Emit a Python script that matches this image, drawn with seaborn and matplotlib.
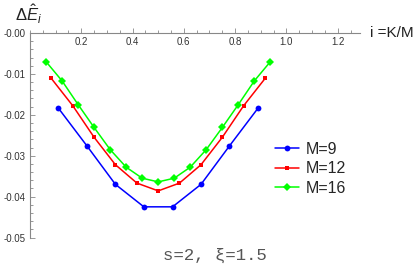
import numpy as np
import pandas as pd
import matplotlib
matplotlib.use('Agg')
import matplotlib.pyplot as plt
import seaborn as sns
from matplotlib.ticker import MultipleLocator, FormatStrFormatter

# values
x9 = [0.111, 0.222, 0.333, 0.444, 0.556, 0.667, 0.778, 0.889]
y9 = [-0.0184, -0.0276, -0.0370, -0.0425, -0.0425, -0.0370, -0.0276, -0.0184]
x12 = [0.083, 0.167, 0.25, 0.333, 0.417, 0.5, 0.583, 0.667, 0.75, 0.833, 0.917]
y12 = [-0.0111, -0.0178, -0.0255, -0.0322, -0.0367, -0.0386, -0.0367, -0.0322, -0.0255, -0.0178, -0.0111]
x16 = [0.0625, 0.125, 0.1875, 0.25, 0.3125, 0.375, 0.4375, 0.5, 0.5625, 0.625, 0.6875, 0.75, 0.8125, 0.875, 0.9375]
y16 = [-0.0070, -0.0117, -0.0175, -0.0231, -0.0285, -0.0328, -0.0355, -0.0364, -0.0355, -0.0328, -0.0285, -0.0231, -0.0175, -0.0117, -0.0070]
labels = ['M=9', 'M=12', 'M=16']
xticks = [0.2, 0.4, 0.6, 0.8, 1.0, 1.2]

df = pd.concat([
    pd.DataFrame({'i': x9, 'dE': y9, 'M': labels[0]}),
    pd.DataFrame({'i': x12, 'dE': y12, 'M': labels[1]}),
    pd.DataFrame({'i': x16, 'dE': y16, 'M': labels[2]}),
])

sns.set_style('white')
plt.rcParams['font.family'] = ['Liberation Sans', 'DejaVu Sans']
plt.rcParams['mathtext.fontset'] = 'custom'
plt.rcParams['mathtext.rm'] = 'Liberation Sans'
plt.rcParams['mathtext.it'] = 'Liberation Sans:italic'

colors = {'M=9': '#0000ff', 'M=12': '#ff0000', 'M=16': '#00ff00'}
markers = {'M=9': 'o', 'M=12': 's', 'M=16': 'D'}
msizes = {'M=9': 4.2, 'M=12': 3.0, 'M=16': 4.2}

fig = plt.figure(figsize=(4.15, 2.65), dpi=100)
ax = fig.add_axes([30/415, 1-237.5/265, 330/415, 204.5/265])

for m in labels:
    sns.lineplot(data=df[df['M'] == m], x='i', y='dE', ax=ax, color=colors[m],
                 marker=markers[m], markersize=msizes[m], markeredgecolor=colors[m],
                 markeredgewidth=0, linewidth=1.1, label=m, sort=False)

ax.set_xlabel('')
ax.set_ylabel('')

for s in ['bottom', 'right']:
    ax.spines[s].set_visible(False)
for s in ['top', 'left']:
    ax.spines[s].set_color('#888888')
    ax.spines[s].set_linewidth(0.8)

ax.set_xticks(xticks)
ax.xaxis.set_minor_locator(MultipleLocator(0.05))
ax.xaxis.set_major_formatter(FormatStrFormatter('%.1f'))
ax.yaxis.set_major_locator(MultipleLocator(0.01))
ax.yaxis.set_minor_locator(MultipleLocator(0.002))
ax.yaxis.set_major_formatter(FormatStrFormatter('%.2f'))
ax.set_xlim(0, 1.287)
ax.set_ylim(-0.05, 0)

ax.tick_params(axis='x', which='both', top=True, bottom=False, labeltop=True,
               labelbottom=False, direction='out', color='#888888', width=0.6)
ax.tick_params(axis='x', which='major', length=3.5, pad=-13.5, labelsize=7, labelcolor='#333333')
ax.tick_params(axis='x', which='minor', length=2)
ax.tick_params(axis='y', which='both', left=True, direction='in', color='#888888', width=0.6)
ax.tick_params(axis='y', which='major', length=3.5, pad=3, labelsize=7, labelcolor='#333333')
ax.tick_params(axis='y', which='minor', length=2)

handles, _ = ax.get_legend_handles_labels()
ax.legend(handles, labels, loc='upper left', bbox_to_anchor=(275/415, 1-142/265),
          bbox_transform=fig.transFigure, frameon=False, fontsize=11.5,
          handlelength=1.5, handletextpad=0.45, labelspacing=0.28,
          borderpad=0, borderaxespad=0)

fig.text(15/415, 1-21/265, r'$\Delta\hat{E}_i$', fontsize=12, va='baseline', color='#222222')
fig.text(370/415, 1-33/265, 'i =K/M', fontsize=11, va='center', color='#222222')
fig.text(215/415, 1-255/265, 's=2, \u03be=1.5', fontsize=12.5, ha='center', va='center',
         family=['Liberation Mono', 'DejaVu Sans Mono'], color='#555555')

fig.savefig('out.png', dpi=100)
